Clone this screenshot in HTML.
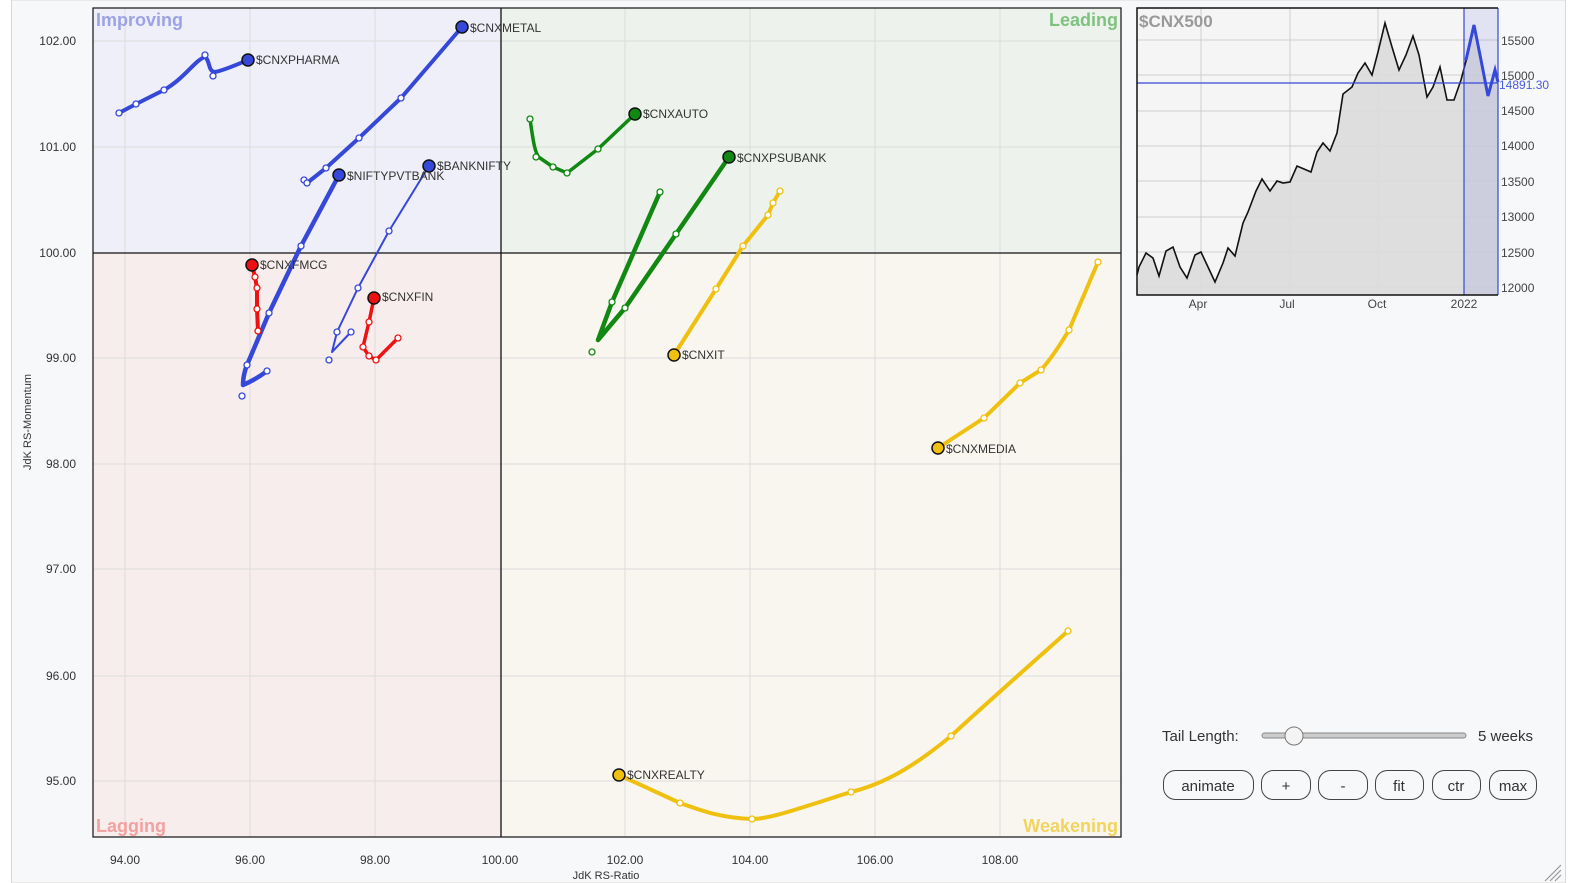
<!DOCTYPE html>
<html><head><meta charset="utf-8"><style>
html,body{margin:0;padding:0;background:#fff;overflow:hidden;width:1572px;height:883px;}
svg{display:block;font-family:"Liberation Sans",Arial,sans-serif;}
</style></head><body>
<svg width="1572" height="883" viewBox="0 0 1572 883" xmlns="http://www.w3.org/2000/svg">
<rect x="0" y="0" width="1572" height="883" fill="#fff"/>
<rect x="11.5" y="0" width="1554" height="883" fill="#f7f8fa" stroke="#d8d8d8"/>
<!-- quadrants -->
<rect x="93" y="8" width="408" height="245" fill="#eeeff8"/>
<rect x="501" y="8" width="620" height="245" fill="#edf3ec"/>
<rect x="93" y="253" width="408" height="584" fill="#f8eded"/>
<rect x="501" y="253" width="620" height="584" fill="#f8f6ef"/>
<g stroke="#dcdcdc" stroke-width="1">
<line x1="125" y1="8" x2="125" y2="837"/><line x1="250" y1="8" x2="250" y2="837"/><line x1="375" y1="8" x2="375" y2="837"/>
<line x1="625" y1="8" x2="625" y2="837"/><line x1="750" y1="8" x2="750" y2="837"/><line x1="875" y1="8" x2="875" y2="837"/><line x1="1000" y1="8" x2="1000" y2="837"/>
<line x1="93" y1="41" x2="1121" y2="41"/><line x1="93" y1="147" x2="1121" y2="147"/><line x1="93" y1="358" x2="1121" y2="358"/><line x1="93" y1="464" x2="1121" y2="464"/><line x1="93" y1="569" x2="1121" y2="569"/><line x1="93" y1="676" x2="1121" y2="676"/><line x1="93" y1="781" x2="1121" y2="781"/>
</g>
<line x1="501" y1="8" x2="501" y2="837" stroke="#111" stroke-width="1.3"/>
<line x1="93" y1="253" x2="1121" y2="253" stroke="#111" stroke-width="1.3"/>
<rect x="93" y="8" width="1028" height="829" fill="none" stroke="#222" stroke-width="1.3"/>
<g font-weight="bold" font-size="18">
<text x="96" y="26" fill="#9ca3e4">Improving</text>
<text x="1118" y="26" fill="#7fc27f" text-anchor="end">Leading</text>
<text x="96" y="832" fill="#f2a0a0">Lagging</text>
<text x="1118" y="832" fill="#f2d35c" text-anchor="end">Weakening</text>
</g>
<g font-size="12" fill="#333" text-anchor="end">
<text x="76" y="45">102.00</text><text x="76" y="151">101.00</text><text x="76" y="257">100.00</text><text x="76" y="362">99.00</text><text x="76" y="468">98.00</text><text x="76" y="573">97.00</text><text x="76" y="680">96.00</text><text x="76" y="785">95.00</text>
</g>
<g font-size="12" fill="#333" text-anchor="middle">
<text x="125" y="864">94.00</text><text x="250" y="864">96.00</text><text x="375" y="864">98.00</text><text x="500" y="864">100.00</text><text x="625" y="864">102.00</text><text x="750" y="864">104.00</text><text x="875" y="864">106.00</text><text x="1000" y="864">108.00</text>
<text x="606" y="879" font-size="11">JdK RS-Ratio</text>
<text transform="translate(31,422) rotate(-90)" font-size="11">JdK RS-Momentum</text>
</g>
<!-- series -->
<g fill="none" stroke-linecap="round" stroke-linejoin="round">
<path d="M119,113 C128,108 136,104 164,90 C185,78 195,60 205,57 C210,60 208,72 215,72 C225,70 238,64 248,60" stroke="#3548d8" stroke-width="4"/>
<path d="M304,180 L307,183 L326,168 L359,138 L401,98 L462,27" stroke="#3548d8" stroke-width="4"/>
<path d="M267,371 C258,378 250,382 243,385 C243,378 245,370 247,365 L269,313 L301,246 L339,175" stroke="#3548d8" stroke-width="4.5"/>
<path d="M351,332 L332,352 L337,332 L358,288 L389,231 L429,166" stroke="#3548d8" stroke-width="2"/>
<path d="M258,331 L257,309 L257,288 L255,277 L252,265" stroke="#ee1111" stroke-width="4"/>
<path d="M398,338 L376,360 L369,356 L363,347 L369,322 L374,298" stroke="#ee1111" stroke-width="3.5"/>
<path d="M530,119 C533,140 535,155 540,158 L553,167 L567,173 L598,149 L635,114" stroke="#118811" stroke-width="3.5"/>
<path d="M660,192 L612,302 L598,340 L625,308 L676,234 L729,157" stroke="#118811" stroke-width="4.5"/>
<path d="M780,191 L773,203 L768,215 L743,246 L716,289 L674,355" stroke="#f0c010" stroke-width="4"/>
<path d="M1098,262 L1069,330 C1060,345 1050,360 1041,370 L1020,383 L984,418 L938,448" stroke="#f0c010" stroke-width="4"/>
<path d="M1068,631 C1030,665 990,700 951,736 C910,770 880,785 851,792 C800,808 770,819 752,819 C720,818 700,810 680,803 L619,775" stroke="#f0c010" stroke-width="4"/>
</g>
<g stroke-width="1.3">
<g fill="#fff" stroke="#3548d8">
<circle cx="119" cy="113" r="3"/><circle cx="136" cy="104" r="3"/><circle cx="164" cy="90" r="3"/><circle cx="205" cy="55" r="3"/><circle cx="213" cy="76" r="3"/>
<circle cx="304" cy="180" r="3"/><circle cx="307" cy="183" r="3"/><circle cx="326" cy="168" r="3"/><circle cx="359" cy="138" r="3"/><circle cx="401" cy="98" r="3"/>
<circle cx="267" cy="371" r="3"/><circle cx="242" cy="396" r="3"/><circle cx="247" cy="365" r="3"/><circle cx="269" cy="313" r="3"/><circle cx="301" cy="246" r="3"/>
<circle cx="351" cy="332" r="3"/><circle cx="337" cy="332" r="3"/><circle cx="329" cy="360" r="3"/><circle cx="358" cy="288" r="3"/><circle cx="389" cy="231" r="3"/>
</g>
<g fill="#fff" stroke="#ee1111">
<circle cx="255" cy="277" r="3"/><circle cx="257" cy="288" r="3"/><circle cx="257" cy="309" r="3"/><circle cx="258" cy="331" r="3"/>
<circle cx="369" cy="322" r="3"/><circle cx="363" cy="347" r="3"/><circle cx="369" cy="356" r="3"/><circle cx="376" cy="360" r="3"/><circle cx="398" cy="338" r="3"/>
</g>
<g fill="#fff" stroke="#118811">
<circle cx="530" cy="119" r="3"/><circle cx="536" cy="157" r="3"/><circle cx="553" cy="167" r="3"/><circle cx="567" cy="173" r="3"/><circle cx="598" cy="149" r="3"/>
<circle cx="660" cy="192" r="3"/><circle cx="612" cy="302" r="3"/><circle cx="592" cy="352" r="3"/><circle cx="625" cy="308" r="3"/><circle cx="676" cy="234" r="3"/>
</g>
<g fill="#fff" stroke="#f0c010">
<circle cx="716" cy="289" r="3"/><circle cx="743" cy="246" r="3"/><circle cx="768" cy="215" r="3"/><circle cx="773" cy="203" r="3"/><circle cx="780" cy="191" r="3"/>
<circle cx="984" cy="418" r="3"/><circle cx="1020" cy="383" r="3"/><circle cx="1041" cy="370" r="3"/><circle cx="1069" cy="330" r="3"/><circle cx="1098" cy="262" r="3"/>
<circle cx="680" cy="803" r="3"/><circle cx="752" cy="819" r="3"/><circle cx="851" cy="792" r="3"/><circle cx="951" cy="736" r="3"/><circle cx="1068" cy="631" r="3"/>
</g>
</g>
<g stroke="#111" stroke-width="1.5">
<circle cx="248" cy="60" r="6" fill="#3548d8"/><circle cx="462" cy="27" r="6" fill="#3548d8"/><circle cx="339" cy="175" r="6" fill="#3548d8"/><circle cx="429" cy="166" r="6" fill="#3548d8"/>
<circle cx="252" cy="265" r="6" fill="#ee1111"/><circle cx="374" cy="298" r="6" fill="#ee1111"/>
<circle cx="635" cy="114" r="6" fill="#118811"/><circle cx="729" cy="157" r="6" fill="#118811"/>
<circle cx="674" cy="355" r="6" fill="#f0c010"/><circle cx="938" cy="448" r="6" fill="#f0c010"/><circle cx="619" cy="775" r="6" fill="#f0c010"/>
</g>
<g font-size="12" fill="#333">
<text x="256" y="64">$CNXPHARMA</text><text x="470" y="32">$CNXMETAL</text><text x="347" y="180">$NIFTYPVTBANK</text><text x="437" y="170">$BANKNIFTY</text>
<text x="260" y="269">$CNXFMCG</text><text x="382" y="301">$CNXFIN</text><text x="643" y="118">$CNXAUTO</text><text x="737" y="162">$CNXPSUBANK</text>
<text x="682" y="359">$CNXIT</text><text x="946" y="453">$CNXMEDIA</text><text x="627" y="779">$CNXREALTY</text>
</g>
<!-- mini chart -->
<rect x="1137" y="8" width="361" height="287" fill="#f5f5f5"/>
<g stroke="#cfcfcf" stroke-width="1">
<line x1="1201" y1="8" x2="1201" y2="295"/><line x1="1290" y1="8" x2="1290" y2="295"/><line x1="1378" y1="8" x2="1378" y2="295"/>
<line x1="1137" y1="40" x2="1498" y2="40"/><line x1="1137" y1="75" x2="1498" y2="75"/><line x1="1137" y1="111" x2="1498" y2="111"/><line x1="1137" y1="146" x2="1498" y2="146"/><line x1="1137" y1="181" x2="1498" y2="181"/><line x1="1137" y1="217" x2="1498" y2="217"/><line x1="1137" y1="252" x2="1498" y2="252"/><line x1="1137" y1="287" x2="1498" y2="287"/>
</g>
<path d="M1139,267 L1146,253 L1153,258 L1159,276 L1166,251 L1173,247 L1180,267 L1187,278 L1195,255 L1201,252 L1208,267 L1215,282 L1223,263 L1228,248 L1235,256 L1243,223 L1248,212 L1256,191 L1262,179 L1270,191 L1277,181 L1283,183 L1290,182 L1297,166 L1304,169 L1311,172 L1317,152 L1323,143 L1330,151 L1337,133 L1343,94 L1352,87 L1358,73 L1365,63 L1372,75 L1378,52 L1385,23 L1392,47 L1399,70 L1406,55 L1413,36 L1419,55 L1427,97 L1433,87 L1440,67 L1447,100 L1454,100 L1461,80 L1467,57 L1474,25 L1481,60 L1488,96 L1495,70 L1498,82 L1498,295 L1137,295 Z" fill="#dcdcdc" opacity="0.9"/>
<rect x="1464" y="8" width="34" height="287" fill="#3548d8" opacity="0.1"/>
<path d="M1137,275 L1139,267 L1146,253 L1153,258 L1159,276 L1166,251 L1173,247 L1180,267 L1187,278 L1195,255 L1201,252 L1208,267 L1215,282 L1223,263 L1228,248 L1235,256 L1243,223 L1248,212 L1256,191 L1262,179 L1270,191 L1277,181 L1283,183 L1290,182 L1297,166 L1304,169 L1311,172 L1317,152 L1323,143 L1330,151 L1337,133 L1343,94 L1352,87 L1358,73 L1365,63 L1372,75 L1378,52 L1385,23 L1392,47 L1399,70 L1406,55 L1413,36 L1419,55 L1427,97 L1433,87 L1440,67 L1447,100 L1454,100 L1461,80 L1467,57" fill="none" stroke="#111" stroke-width="1.6"/>
<path d="M1466,60 L1474,25 L1481,60 L1488,96 L1495,70 L1498,82" fill="none" stroke="#3548d8" stroke-width="3"/>
<line x1="1137" y1="83" x2="1498" y2="83" stroke="#3548d8" stroke-width="1.2"/>
<line x1="1464" y1="8" x2="1464" y2="295" stroke="#3548d8" stroke-width="1.2"/>
<line x1="1498" y1="8" x2="1498" y2="295" stroke="#3548d8" stroke-width="1.2"/>
<path d="M1498,8 L1137,8 L1137,295 L1498,295" fill="none" stroke="#111" stroke-width="1.5"/>
<text x="1139" y="27" font-size="17" font-weight="bold" fill="#999">$CNX500</text>
<g font-size="12" fill="#444">
<text x="1501" y="45">15500</text><text x="1501" y="80">15000</text><text x="1501" y="115">14500</text><text x="1501" y="150">14000</text><text x="1501" y="186">13500</text><text x="1501" y="221">13000</text><text x="1501" y="257">12500</text><text x="1501" y="292">12000</text>
<text x="1499" y="89" fill="#4a5ae0">14891.30</text>
<g text-anchor="middle"><text x="1198" y="308">Apr</text><text x="1287" y="308">Jul</text><text x="1377" y="308">Oct</text><text x="1464" y="308">2022</text></g>
</g>
<!-- controls -->
<text x="1162" y="741" font-size="15" fill="#333">Tail Length:</text>
<rect x="1262" y="733" width="204" height="5" rx="2.5" fill="#ccc" stroke="#888"/>
<circle cx="1294" cy="736" r="9" fill="#f4f4f4" stroke="#777"/>
<text x="1478" y="741" font-size="15" fill="#333">5 weeks</text>
<g fill="none" stroke="#444" stroke-width="1">
<rect x="1163.5" y="770.5" width="90" height="29" rx="12"/><rect x="1261.5" y="770.5" width="49" height="29" rx="12"/><rect x="1318.5" y="770.5" width="49" height="29" rx="12"/><rect x="1375.5" y="770.5" width="48" height="29" rx="12"/><rect x="1432.5" y="770.5" width="48" height="29" rx="12"/><rect x="1489.5" y="770.5" width="47" height="29" rx="12"/>
</g>
<g font-size="15" fill="#333" text-anchor="middle">
<text x="1208" y="791">animate</text><text x="1286" y="791">+</text><text x="1343" y="791">-</text><text x="1399" y="791">fit</text><text x="1456" y="791">ctr</text><text x="1513" y="791">max</text>
</g>
<g stroke="#999" stroke-width="1.2"><line x1="1545" y1="881" x2="1561" y2="865"/><line x1="1550" y1="881" x2="1561" y2="870"/><line x1="1555" y1="881" x2="1561" y2="875"/></g>
</svg>
</body></html>
